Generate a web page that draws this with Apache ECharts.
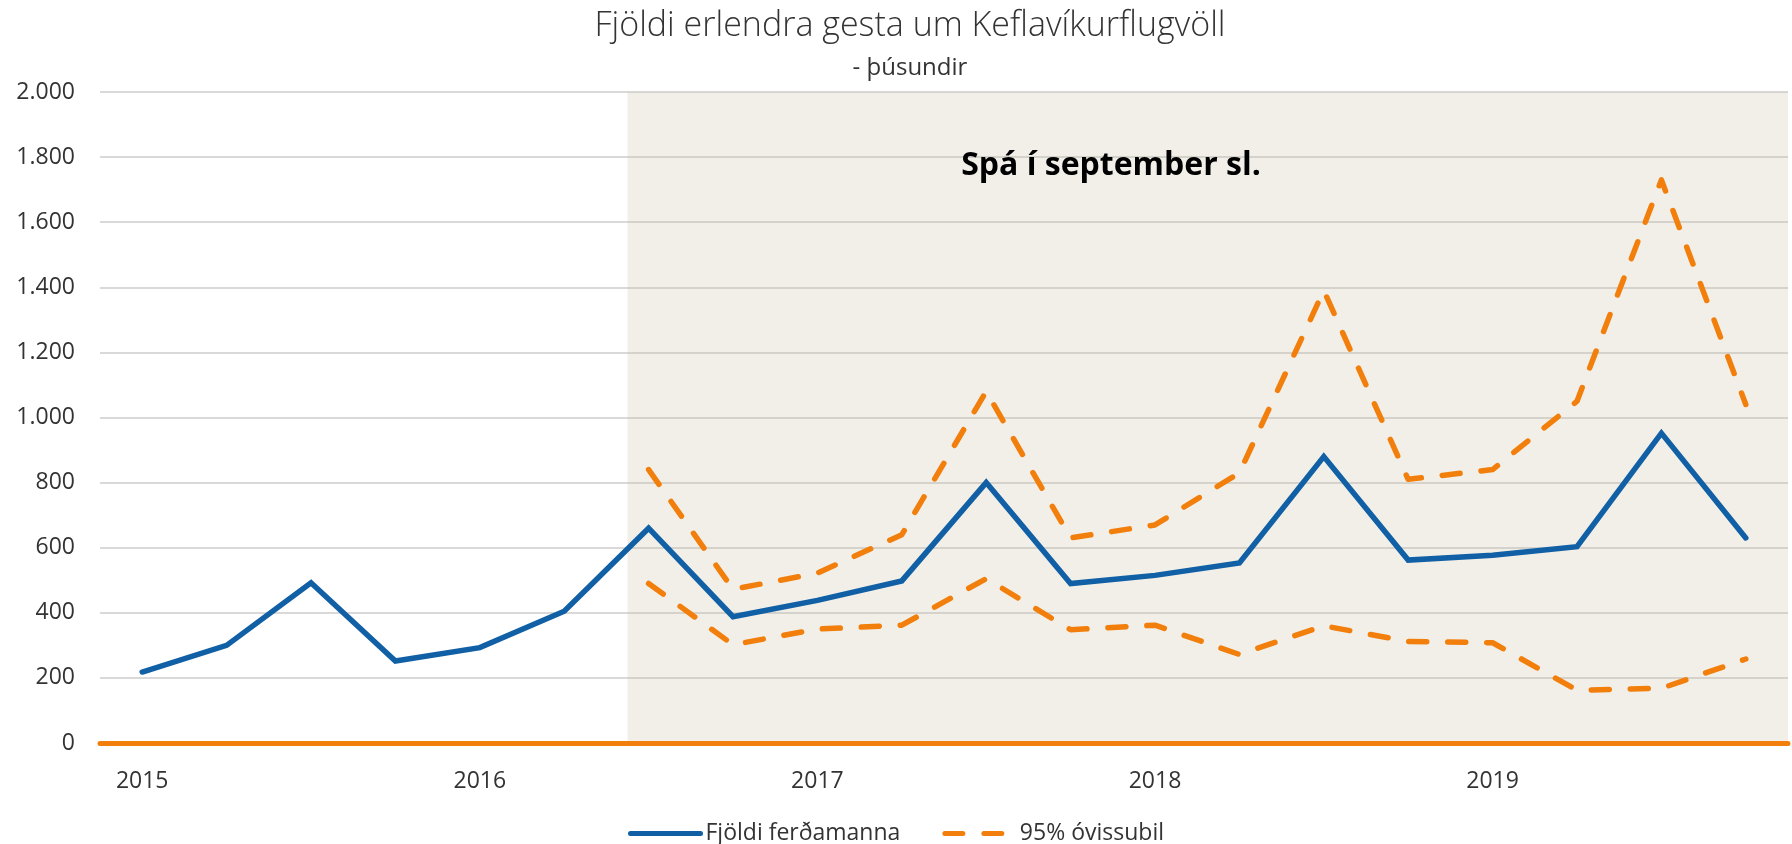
<!DOCTYPE html>
<html>
<head>
<meta charset="utf-8">
<script src="https://cdn.jsdelivr.net/npm/echarts@6/dist/echarts.min.js"></script>
<style>
  html, body { margin: 0; padding: 0; background: #fff; }
  #chart { width: 1792px; height: 844px; }
</style>
</head>
<body>
<div id="chart"></div>
<script>
// ársfjórðungar 2015-2019, merki bara við fyrsta fjórðung hvers árs
const quarters = [
  '2015', '2015F2', '2015F3', '2015F4',
  '2016', '2016F2', '2016F3', '2016F4',
  '2017', '2017F2', '2017F3', '2017F4',
  '2018', '2018F2', '2018F3', '2018F4',
  '2019', '2019F2', '2019F3', '2019F4'
]
const yearLabels = ['2015', '2016', '2017', '2018', '2019']

// þúsundir gesta
const visitors = [218, 300, 492, 252, 293, 405, 660, 388, 438, 498, 800, 490, 515, 553, 880, 562, 577, 603, 952, 630]
const upperBand = [null, null, null, null, null, null, 840, 472, 522, 640, 1080, 630, 670, 830, 1390, 810, 840, 1050, 1730, 1040]
const lowerBand = [null, null, null, null, null, null, 490, 302, 350, 362, 505, 348, 362, 272, 360, 312, 308, 162, 168, 258]

// spátímabilið (skyggða svæðið) á kvarða 0-20
const forecastStart = 6.25
const forecastEnd = 20

const BLUE = '#1160a6'
const ORANGE = '#f27f0c'
const FONT = '"Open Sans", sans-serif'

const chart = echarts.init(document.getElementById('chart'))

chart.setOption({
  animation: false,
  title: [
    {
      text: 'Fjöldi erlendra gesta um Keflavíkurflugvöll',
      left: 905, top: 4, textAlign: 'center',
      textStyle: { fontFamily: FONT, fontWeight: 300, fontSize: 34, color: '#333' }
    },
    {
      text: '- þúsundir',
      left: 905, top: 51, textAlign: 'center',
      textStyle: { fontFamily: FONT, fontWeight: 400, fontSize: 24, color: '#333' }
    },
    {
      text: 'Spá í september sl.',
      left: 1106, top: 145, textAlign: 'center',
      textStyle: { fontFamily: FONT, fontWeight: 700, fontSize: 32, color: '#000' }
    }
  ],
  legend: {
    data: ['Fjöldi ferðamanna', '95% óvissubil'],
    left: 'center',
    bottom: -6,
    itemWidth: 70,
    itemHeight: 14,
    itemGap: 42,
    itemStyle: { opacity: 0 },
    lineStyle: { width: 5, cap: 'round' },
    textStyle: { fontFamily: FONT, fontSize: 23, color: '#333' }
  },
  grid: { left: 100, right: 4, top: 92, bottom: 101 },
  xAxis: [
    {
      type: 'category',
      data: quarters,
      boundaryGap: true,
      z: 5,
      axisLine: { lineStyle: { color: ORANGE, width: 5 } },
      axisTick: { show: false },
      axisLabel: {
        interval: 0,
        margin: 27,
        fontFamily: FONT,
        fontSize: 23,
        color: '#333',
        formatter: (v) => (yearLabels.includes(v) ? v : '')
      }
    },
    { type: 'value', min: 0, max: 20, show: false }
  ],
  yAxis: {
    type: 'value',
    min: 0,
    max: 2000,
    interval: 200,
    axisLine: { show: false },
    axisTick: { show: false },
    axisLabel: {
      margin: 25,
      fontFamily: FONT,
      fontSize: 23,
      color: '#333',
      formatter: (v) => String(v).replace(/\B(?=(\d{3})+(?!\d))/g, '.')
    },
    splitLine: { lineStyle: { color: '#d9d9d9', width: 2 } }
  },
  series: [
    {
      // bara fyrir skyggða spásvæðið
      type: 'line',
      xAxisIndex: 1,
      data: [[0, 0]],
      symbol: 'none',
      silent: true,
      lineStyle: { width: 0 },
      markArea: {
        silent: true,
        itemStyle: { color: 'rgba(196,190,160,0.24)' },
        data: [[{ xAxis: forecastStart, yAxis: 0 }, { xAxis: forecastEnd, yAxis: 2000 }]]
      }
    },
    {
      name: '95% óvissubil',
      type: 'line',
      data: upperBand,
      symbol: 'none',
      lineStyle: { color: ORANGE, width: 5.5, type: [18, 21], cap: 'round', join: 'round' },
      itemStyle: { color: ORANGE }
    },
    {
      name: '95% óvissubil',
      type: 'line',
      data: lowerBand,
      symbol: 'none',
      lineStyle: { color: ORANGE, width: 5.5, type: [18, 21], cap: 'round', join: 'round' },
      itemStyle: { color: ORANGE }
    },
    {
      name: 'Fjöldi ferðamanna',
      type: 'line',
      data: visitors,
      symbol: 'none',
      lineStyle: { color: BLUE, width: 5.5, cap: 'round', join: 'miter' },
      itemStyle: { color: BLUE }
    }
  ]
})
</script>
</body>
</html>
